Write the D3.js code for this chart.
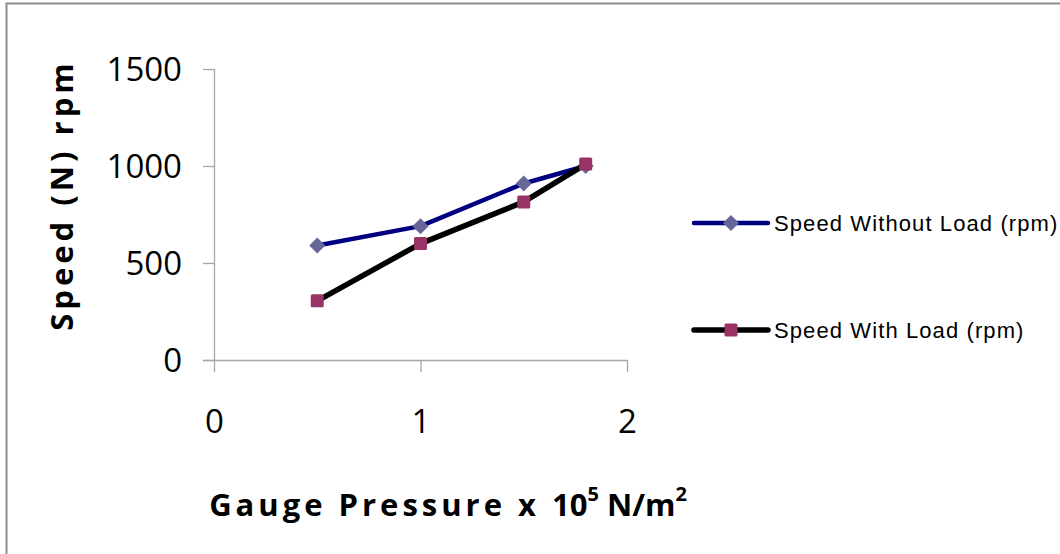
<!DOCTYPE html>
<html>
<head>
<meta charset="utf-8">
<script src="https://cdn.jsdelivr.net/npm/d3@7"></script>
<style>
  body { margin:0; background:#fff; }
  svg { display:block; }
</style>
</head>
<body>
<svg id="chart" width="1060" height="554"></svg>
<script>
// data
const pressure = [0.5, 1, 1.5, 1.8]
const withoutLoad = [590, 690, 910, 1000]
const withLoad = [305, 600, 815, 1010]
const xTicks = [0, 1, 2]
const yTicks = [0, 500, 1000, 1500]
const seriesNames = ["Speed Without Load (rpm)", "Speed With Load (rpm)"]

const svg = d3.select("#chart")

// outer frame (only left/top visible)
svg.append("rect")
  .attr("x", 6.5).attr("y", 3.5)
  .attr("width", 1100).attr("height", 600)
  .attr("fill", "none")
  .attr("stroke", "#8c8c8c")
  .attr("stroke-width", 2)

const plot = {left:214, right:627, top:69, bottom:360}

const x = d3.scaleLinear().domain([0, 2]).range([plot.left, plot.right])
const y = d3.scaleLinear().domain([0, 1500]).range([plot.bottom, plot.top])

const xAxis = d3.axisBottom(x).tickValues(xTicks).tickSize(12).tickPadding(38).tickFormat(d3.format("d"))
const yAxis = d3.axisLeft(y).tickValues(yTicks).tickSize(11).tickPadding(21).tickFormat(d3.format("d"))

const gx = svg.append("g")
  .attr("transform", "translate(0," + plot.bottom + ")")
  .call(xAxis)
gx.select(".domain").attr("d", "M" + (plot.left - 11) + ",0.5H" + plot.right)

const gy = svg.append("g")
  .attr("transform", "translate(" + plot.left + ",0)")
  .call(yAxis)
gy.select(".domain").attr("d", "M0.5," + plot.top + "V" + plot.bottom)

svg.selectAll(".domain, .tick line")
  .attr("stroke", "#a6a6a6")
  .attr("stroke-width", 1.3)
svg.selectAll(".tick text")
  .attr("fill", "#000")
  .style("font-family", "'Open Sans', sans-serif")
  .style("font-size", "33px")
gy.selectAll(".tick text").attr("dy", "0.36em")

// lines
const series = [
  {name: seriesNames[0], values: withoutLoad, line: "#000080", lw: 4.5, marker: "diamond", mc: "#666699"},
  {name: seriesNames[1], values: withLoad, line: "#000000", lw: 5.5, marker: "square", mc: "#993366"}
]

const lineGen = d3.line()
  .x(d => x(d[0]))
  .y(d => y(d[1]))

function drawMarker(g, type, cx, cy, fill) {
  if (type === "diamond") {
    g.append("path")
      .attr("d", "M" + cx + "," + (cy - 8) + "L" + (cx + 8) + "," + cy + "L" + cx + "," + (cy + 8) + "L" + (cx - 8) + "," + cy + "Z")
      .attr("fill", fill)
  } else {
    g.append("rect")
      .attr("x", cx - 6.5).attr("y", cy - 6.5)
      .attr("width", 13).attr("height", 13)
      .attr("rx", 1.5)
      .attr("fill", fill)
  }
}

series.forEach(s => {
  const pts = pressure.map((p, i) => [p, s.values[i]])
  svg.append("path")
    .datum(pts)
    .attr("d", lineGen)
    .attr("fill", "none")
    .attr("stroke", s.line)
    .attr("stroke-width", s.lw)
    .attr("stroke-linejoin", "round")
  const mg = svg.append("g")
  pts.forEach(p => drawMarker(mg, s.marker, x(p[0]), y(p[1]), s.mc))
})

// legend
const legendY = [223, 330]
series.forEach((s, i) => {
  const lg = svg.append("g").attr("transform", "translate(0," + legendY[i] + ")")
  lg.append("line")
    .attr("x1", 694).attr("x2", 768)
    .attr("y1", 0).attr("y2", 0)
    .attr("stroke", s.line)
    .attr("stroke-width", s.lw)
    .attr("stroke-linecap", "round")
  drawMarker(lg, s.marker, 731, 0, s.mc)
  lg.append("text")
    .attr("x", 774).attr("y", 0)
    .attr("dy", "0.36em")
    .style("font-family", "'Liberation Sans', Arial, sans-serif")
    .style("font-size", "22px")
    .style("letter-spacing", "1.1px")
    .text(s.name)
})

// axis titles
svg.append("text")
  .attr("transform", "translate(73,195) rotate(-90)")
  .attr("text-anchor", "middle")
  .style("font-family", "'Open Sans', sans-serif")
  .style("font-weight", "bold")
  .style("font-size", "31px")
  .style("letter-spacing", "4px")
  .text("Speed (N) rpm")

const xt = svg.append("text")
  .attr("x", 448).attr("y", 516)
  .attr("text-anchor", "middle")
  .style("font-family", "'Open Sans', sans-serif")
  .style("font-weight", "bold")
  .style("font-size", "31px")
xt.append("tspan").style("letter-spacing", "4px").text("Gauge Pressure x ")
xt.append("tspan").text("10")
xt.append("tspan").attr("dy", -15).style("font-size", "20px").text("5")
xt.append("tspan").attr("dy", 15).text(" N/m")
xt.append("tspan").attr("dy", -15).style("font-size", "20px").text("2")
</script>
</body>
</html>
